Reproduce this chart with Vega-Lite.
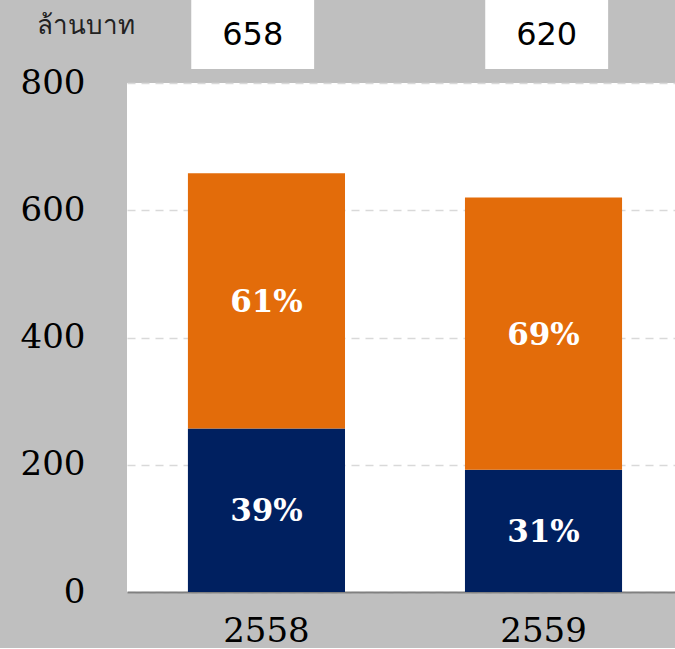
{
  "$schema": "https://vega.github.io/schema/vega-lite/v6.json",
  "background": "#bfbfbf",
  "padding": {"left": 20, "top": 0, "right": 0, "bottom": 0},
  "config": {"view": {"stroke": null}},
  "datasets": {
    "segments": [
      {"year": "2558", "segment": "navy", "order": 1, "value": 257, "pct": "39%"},
      {"year": "2558", "segment": "orange", "order": 2, "value": 401, "pct": "61%"},
      {"year": "2559", "segment": "navy", "order": 1, "value": 192, "pct": "31%"},
      {"year": "2559", "segment": "orange", "order": 2, "value": 428, "pct": "69%"}
    ],
    "totals": [
      {"year": "2558", "total": "658"},
      {"year": "2559", "total": "620"}
    ]
  },
  "vconcat": [
    {
      "width": 548,
      "height": 69,
      "data": {"name": "totals"},
      "view": {"stroke": null},
      "layer": [
        {
          "mark": {"type": "rect", "color": "white"},
          "encoding": {
            "x": {"field": "year", "type": "nominal", "axis": null,
                  "scale": {"paddingInner": 0.582, "paddingOuter": 0.223, "align": 0.49}}
          }
        },
        {
          "mark": {"type": "text", "font": "DejaVu Sans", "fontSize": 32, "color": "black"},
          "encoding": {
            "x": {"field": "year", "type": "nominal", "axis": null,
                  "scale": {"paddingInner": 0.582, "paddingOuter": 0.223, "align": 0.49}},
            "text": {"field": "total", "type": "nominal"}
          }
        }
      ]
    },
    {
      "width": 548,
      "height": 509,
      "data": {"name": "segments"},
      "view": {"fill": "white", "stroke": null},
      "transform": [
        {"stack": "value", "groupby": ["year"], "sort": [{"field": "order", "order": "ascending"}], "as": ["v0", "v1"]},
        {"calculate": "(datum.v0 + datum.v1) / 2", "as": "mid"}
      ],
      "layer": [
        {
          "mark": {"type": "bar"},
          "encoding": {
            "x": {"field": "year", "type": "nominal",
                  "scale": {"paddingInner": 0.433, "paddingOuter": 0.2055, "align": 0.535},
                  "axis": {"title": null, "labelAngle": 0, "labelFont": "DejaVu Serif", "labelFontSize": 34,
                           "labelColor": "black", "labelPadding": 22, "ticks": false,
                           "domainColor": "#808080", "domainWidth": 2}},
            "y": {"field": "v0", "type": "quantitative",
                  "scale": {"domain": [0, 800], "nice": false},
                  "axis": {"values": [0, 200, 400, 600, 800], "labelFont": "DejaVu Serif", "labelFontSize": 34,
                           "labelColor": "black", "labelPadding": 42, "ticks": false, "domain": false,
                           "gridDash": [8, 6], "gridColor": "#d9d9d9", "gridWidth": 1.5,
                           "title": "ล้านบาท", "titleAngle": 0, "titleX": -42, "titleY": -58,
                           "titleAlign": "center", "titleBaseline": "middle", "titleFontSize": 26,
                           "titleFontWeight": "normal", "titleColor": "#222222"}},
            "y2": {"field": "v1"},
            "color": {"field": "segment", "type": "nominal", "legend": null,
                      "scale": {"domain": ["navy", "orange"], "range": ["#002060", "#e36c0a"]}}
          }
        },
        {
          "mark": {"type": "text", "font": "DejaVu Serif", "fontWeight": "bold", "fontSize": 31, "color": "white", "dy": 2},
          "encoding": {
            "x": {"field": "year", "type": "nominal"},
            "y": {"field": "mid", "type": "quantitative"},
            "text": {"field": "pct", "type": "nominal"}
          }
        }
      ]
    }
  ],
  "resolve": {"scale": {"x": "independent", "y": "independent"}},
  "spacing": 14,
  "bounds": "flush"
}
